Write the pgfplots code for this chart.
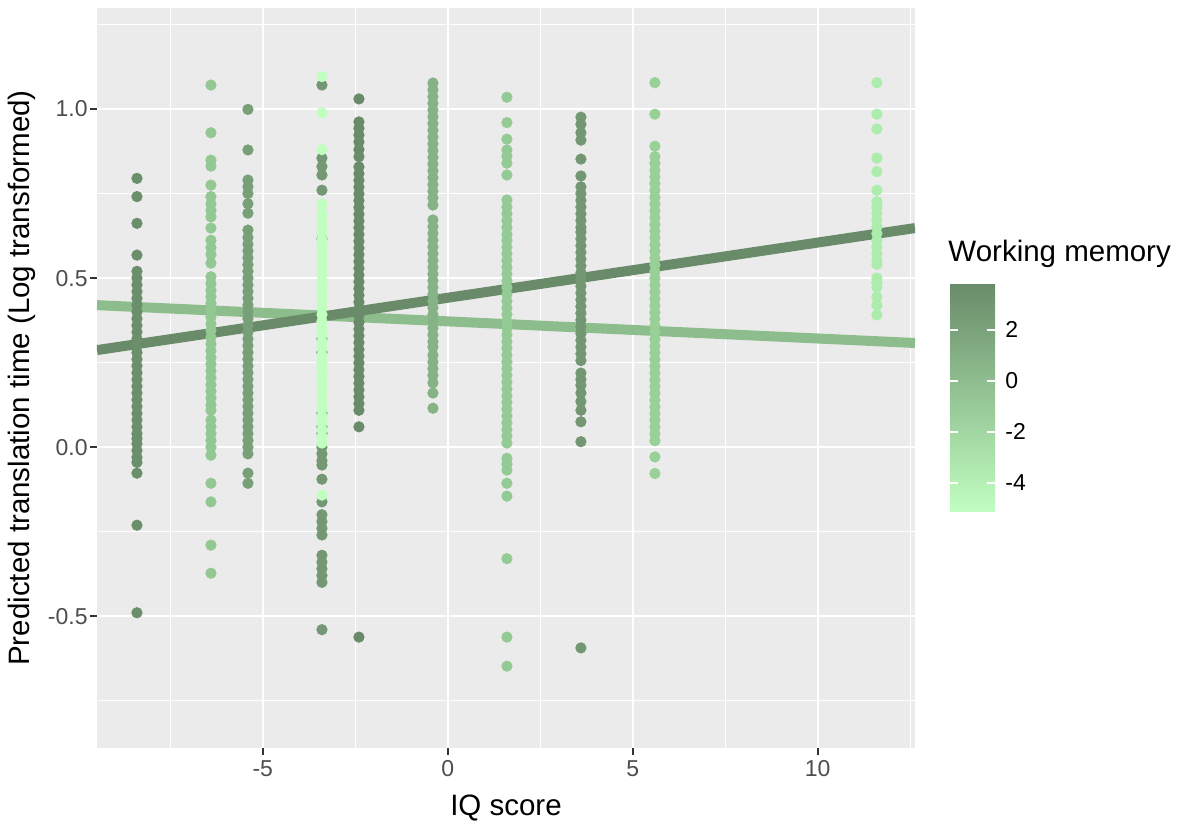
\documentclass[border=0pt]{standalone}
\usepackage{fontspec}
\setmainfont{Liberation Sans}
\usepackage{pgfplots}
\pgfplotsset{compat=1.18}
\usetikzlibrary{calc}
\definecolor{panel}{HTML}{EBEBEB}
\definecolor{tickc}{HTML}{333333}
\definecolor{labgrey}{HTML}{4D4D4D}
\definecolor{cA}{RGB}{107,142,107}
\definecolor{cB}{RGB}{147,200,147}
\definecolor{cC}{RGB}{120,160,120}
\definecolor{cDd}{RGB}{115,152,115}
\definecolor{cDl}{RGB}{193,255,193}
\definecolor{cE}{RGB}{105,139,105}
\definecolor{cF}{RGB}{133,179,133}
\definecolor{cG}{RGB}{148,203,148}
\definecolor{cH}{RGB}{115,151,115}
\definecolor{cI}{RGB}{152,208,152}
\definecolor{cJ}{RGB}{172,236,172}
\definecolor{lineDark}{RGB}{105,139,105}
\definecolor{lineLight}{RGB}{141,189,141}
\begin{document}
\begin{tikzpicture}
\useasboundingbox (0,0) rectangle (590pt,414pt);
\begin{axis}[
  at={(48.5pt,40pt)}, anchor=south west,
  scale only axis, width=409pt, height=370pt,
  xmin=-9.48, xmax=12.63, ymin=-0.89, ymax=1.299,
  axis background/.style={fill=panel},
  axis line style={draw=none},
  xtick={-5,0,5,10}, xticklabels={-5,0,5,10},
  ytick={-0.5,0,0.5,1}, yticklabels={-0.5,0.0,0.5,1.0},
  minor xtick={-7.5,-2.5,2.5,7.5,12.5},
  minor ytick={-0.75,-0.25,0.25,0.75,1.25},
  grid=both,
  major grid style={white, line width=1.2pt},
  minor grid style={white, line width=0.6pt},
  tick align=outside,
  major tick length=3.5pt, minor tick length=0pt,
  tick style={color=tickc, line width=1.1pt},
  xtick pos=left, ytick pos=left,
  ticklabel style={font=\fontsize{11.5}{13}\selectfont, text=labgrey},
  yticklabel style={inner sep=1pt},
  xticklabel style={inner sep=2.5pt},
  xlabel={IQ score}, ylabel={Predicted translation time (Log transformed)},
  label style={font=\fontsize{14.75}{17}\selectfont},
  xlabel style={at={(axis description cs:0.5,-0.0811)}, anchor=center},
  ylabel style={at={(axis description cs:-0.0917,0.5)}, anchor=center},
  colormap={wm}{rgb255=(193,255,193) rgb255=(105,139,105)},
  point meta min=-5.14, point meta max=3.84,
  colorbar,
  colorbar/width=22.5pt,
  colorbar style={
    at={($(parent axis.north east)+(9pt,-137.5pt)$)}, anchor=north west,
    scale only axis, width=22.5pt, height=114.5pt,
    axis line style={draw=none},
    axis on top,
    ytick={-4,-2,0,2}, yticklabels={-4,-2,0,2},
    ytick pos=both, yticklabel pos=right,
    tick align=inside, major tick length=4pt,
    tick style={color=white, line width=1pt},
    yticklabel style={font=\fontsize{11.5}{13}\selectfont, text=black, inner sep=0pt, xshift=5pt},
    title={Working memory},
    title style={at={(0,1)}, anchor=base west, inner sep=0pt, yshift=4.75pt, xshift=-1pt, font=\fontsize{14.75}{17}\selectfont},
  },
]
% IQ -8.4
\addplot[only marks, mark=*, mark size=2.6pt, color=cA] coordinates {
(-8.4,0.795) (-8.4,0.741) (-8.4,0.662) (-8.4,0.568) (-8.4,0.52) (-8.4,0.50) (-8.4,0.48) (-8.4,0.46) (-8.4,0.44) (-8.4,0.42) (-8.4,0.40) (-8.4,0.38) (-8.4,0.36) (-8.4,0.34) (-8.4,0.32) (-8.4,0.30) (-8.4,0.28) (-8.4,0.26) (-8.4,0.24) (-8.4,0.22) (-8.4,0.20) (-8.4,0.18) (-8.4,0.16) (-8.4,0.14) (-8.4,0.12) (-8.4,0.10) (-8.4,0.08) (-8.4,0.06) (-8.4,0.04) (-8.4,0.025) (-8.4,0.01) (-8.4,-0.01) (-8.4,-0.03) (-8.4,-0.045) (-8.4,-0.077) (-8.4,-0.231) (-8.4,-0.49)};
% IQ -6.4
\addplot[only marks, mark=*, mark size=2.6pt, color=cB] coordinates {
(-6.4,1.071) (-6.4,0.93) (-6.4,0.849) (-6.4,0.831) (-6.4,0.775) (-6.4,0.741) (-6.4,0.72) (-6.4,0.70) (-6.4,0.681) (-6.4,0.648) (-6.4,0.612) (-6.4,0.59) (-6.4,0.57) (-6.4,0.544) (-6.4,0.504) (-6.4,0.484) (-6.4,0.464) (-6.4,0.445) (-6.4,0.425) (-6.4,0.405) (-6.4,0.385) (-6.4,0.365) (-6.4,0.345) (-6.4,0.325) (-6.4,0.305) (-6.4,0.285) (-6.4,0.265) (-6.4,0.245) (-6.4,0.225) (-6.4,0.205) (-6.4,0.185) (-6.4,0.165) (-6.4,0.145) (-6.4,0.125) (-6.4,0.109) (-6.4,0.08) (-6.4,0.06) (-6.4,0.04) (-6.4,0.02) (-6.4,0.0) (-6.4,-0.024) (-6.4,-0.107) (-6.4,-0.162) (-6.4,-0.29) (-6.4,-0.373)};
% IQ -5.4
\addplot[only marks, mark=*, mark size=2.6pt, color=cC] coordinates {
(-5.4,0.999) (-5.4,0.879) (-5.4,0.79) (-5.4,0.77) (-5.4,0.75) (-5.4,0.72) (-5.4,0.692) (-5.4,0.642) (-5.4,0.62) (-5.4,0.60) (-5.4,0.58) (-5.4,0.56) (-5.4,0.54) (-5.4,0.52) (-5.4,0.50) (-5.4,0.48) (-5.4,0.46) (-5.4,0.44) (-5.4,0.42) (-5.4,0.40) (-5.4,0.38) (-5.4,0.36) (-5.4,0.34) (-5.4,0.32) (-5.4,0.30) (-5.4,0.28) (-5.4,0.26) (-5.4,0.24) (-5.4,0.22) (-5.4,0.20) (-5.4,0.18) (-5.4,0.16) (-5.4,0.14) (-5.4,0.12) (-5.4,0.10) (-5.4,0.08) (-5.4,0.06) (-5.4,0.04) (-5.4,0.02) (-5.4,0.0) (-5.4,-0.02) (-5.4,-0.077) (-5.4,-0.107)};
% IQ -3.4 (dark group)
\addplot[only marks, mark=*, mark size=2.6pt, color=cDd] coordinates {
(-3.4,1.071) (-3.4,0.855) (-3.4,0.83) (-3.4,0.805) (-3.4,0.76) (-3.4,0.615) (-3.4,0.32) (-3.4,0.28) (-3.4,0.10) (-3.4,0.06) (-3.4,0.04) (-3.4,0.0) (-3.4,-0.02) (-3.4,-0.04) (-3.4,-0.053) (-3.4,-0.095) (-3.4,-0.162) (-3.4,-0.20) (-3.4,-0.22) (-3.4,-0.24) (-3.4,-0.26) (-3.4,-0.32) (-3.4,-0.34) (-3.4,-0.36) (-3.4,-0.38) (-3.4,-0.40) (-3.4,-0.54)};
% IQ -3.4 (light group)
\addplot[only marks, mark=*, mark size=2.6pt, color=cDl] coordinates {
(-3.4,1.096) (-3.4,0.989) (-3.4,0.88) (-3.4,0.719) (-3.4,0.692) (-3.4,0.672) (-3.4,0.652) (-3.4,0.632) (-3.4,0.612) (-3.4,0.592) (-3.4,0.572) (-3.4,0.552) (-3.4,0.532) (-3.4,0.512) (-3.4,0.492) (-3.4,0.472) (-3.4,0.452) (-3.4,0.432) (-3.4,0.412) (-3.4,0.392) (-3.4,0.372) (-3.4,0.352) (-3.4,0.332) (-3.4,0.312) (-3.4,0.292) (-3.4,0.272) (-3.4,0.252) (-3.4,0.232) (-3.4,0.212) (-3.4,0.192) (-3.4,0.172) (-3.4,0.152) (-3.4,0.132) (-3.4,0.112) (-3.4,0.092) (-3.4,0.072) (-3.4,0.052) (-3.4,0.032) (-3.4,0.012) (-3.4,-0.142)};
% IQ -2.4
\addplot[only marks, mark=*, mark size=2.6pt, color=cE] coordinates {
(-2.4,1.03) (-2.4,0.962) (-2.4,0.943) (-2.4,0.923) (-2.4,0.903) (-2.4,0.88) (-2.4,0.859) (-2.4,0.829) (-2.4,0.809) (-2.4,0.789) (-2.4,0.769) (-2.4,0.749) (-2.4,0.729) (-2.4,0.709) (-2.4,0.689) (-2.4,0.669) (-2.4,0.649) (-2.4,0.629) (-2.4,0.609) (-2.4,0.589) (-2.4,0.569) (-2.4,0.549) (-2.4,0.529) (-2.4,0.509) (-2.4,0.489) (-2.4,0.469) (-2.4,0.449) (-2.4,0.429) (-2.4,0.409) (-2.4,0.389) (-2.4,0.369) (-2.4,0.349) (-2.4,0.329) (-2.4,0.309) (-2.4,0.289) (-2.4,0.269) (-2.4,0.249) (-2.4,0.229) (-2.4,0.209) (-2.4,0.189) (-2.4,0.169) (-2.4,0.149) (-2.4,0.129) (-2.4,0.109) (-2.4,0.06) (-2.4,-0.562)};
% IQ -0.4
\addplot[only marks, mark=*, mark size=2.6pt, color=cF] coordinates {
(-0.4,1.077) (-0.4,1.057) (-0.4,1.037) (-0.4,1.017) (-0.4,0.997) (-0.4,0.977) (-0.4,0.957) (-0.4,0.937) (-0.4,0.917) (-0.4,0.897) (-0.4,0.877) (-0.4,0.857) (-0.4,0.837) (-0.4,0.817) (-0.4,0.797) (-0.4,0.777) (-0.4,0.757) (-0.4,0.737) (-0.4,0.716) (-0.4,0.672) (-0.4,0.652) (-0.4,0.632) (-0.4,0.612) (-0.4,0.592) (-0.4,0.572) (-0.4,0.552) (-0.4,0.532) (-0.4,0.512) (-0.4,0.492) (-0.4,0.472) (-0.4,0.452) (-0.4,0.432) (-0.4,0.412) (-0.4,0.392) (-0.4,0.372) (-0.4,0.352) (-0.4,0.332) (-0.4,0.312) (-0.4,0.296) (-0.4,0.272) (-0.4,0.252) (-0.4,0.232) (-0.4,0.212) (-0.4,0.19) (-0.4,0.16) (-0.4,0.115)};
% IQ 1.6
\addplot[only marks, mark=*, mark size=2.6pt, color=cG] coordinates {
(1.6,1.035) (1.6,0.96) (1.6,0.911) (1.6,0.879) (1.6,0.86) (1.6,0.84) (1.6,0.805) (1.6,0.731) (1.6,0.71) (1.6,0.69) (1.6,0.67) (1.6,0.65) (1.6,0.63) (1.6,0.612) (1.6,0.592) (1.6,0.572) (1.6,0.552) (1.6,0.532) (1.6,0.512) (1.6,0.492) (1.6,0.472) (1.6,0.452) (1.6,0.432) (1.6,0.412) (1.6,0.392) (1.6,0.372) (1.6,0.352) (1.6,0.332) (1.6,0.312) (1.6,0.292) (1.6,0.272) (1.6,0.252) (1.6,0.232) (1.6,0.212) (1.6,0.192) (1.6,0.172) (1.6,0.152) (1.6,0.132) (1.6,0.112) (1.6,0.092) (1.6,0.072) (1.6,0.052) (1.6,0.032) (1.6,0.012) (1.6,-0.033) (1.6,-0.05) (1.6,-0.068) (1.6,-0.107) (1.6,-0.145) (1.6,-0.33) (1.6,-0.562) (1.6,-0.648)};
% IQ 3.6
\addplot[only marks, mark=*, mark size=2.6pt, color=cH] coordinates {
(3.6,0.976) (3.6,0.955) (3.6,0.93) (3.6,0.908) (3.6,0.852) (3.6,0.802) (3.6,0.77) (3.6,0.75) (3.6,0.73) (3.6,0.71) (3.6,0.69) (3.6,0.67) (3.6,0.65) (3.6,0.636) (3.6,0.616) (3.6,0.596) (3.6,0.576) (3.6,0.556) (3.6,0.536) (3.6,0.516) (3.6,0.496) (3.6,0.476) (3.6,0.456) (3.6,0.436) (3.6,0.416) (3.6,0.396) (3.6,0.376) (3.6,0.356) (3.6,0.336) (3.6,0.316) (3.6,0.296) (3.6,0.276) (3.6,0.256) (3.6,0.219) (3.6,0.2) (3.6,0.183) (3.6,0.16) (3.6,0.135) (3.6,0.109) (3.6,0.075) (3.6,0.016) (3.6,-0.594)};
% IQ 5.6
\addplot[only marks, mark=*, mark size=2.6pt, color=cI] coordinates {
(5.6,1.078) (5.6,0.985) (5.6,0.89) (5.6,0.859) (5.6,0.839) (5.6,0.819) (5.6,0.799) (5.6,0.779) (5.6,0.759) (5.6,0.739) (5.6,0.719) (5.6,0.699) (5.6,0.679) (5.6,0.659) (5.6,0.639) (5.6,0.619) (5.6,0.599) (5.6,0.579) (5.6,0.559) (5.6,0.539) (5.6,0.519) (5.6,0.499) (5.6,0.479) (5.6,0.459) (5.6,0.439) (5.6,0.419) (5.6,0.399) (5.6,0.379) (5.6,0.359) (5.6,0.339) (5.6,0.319) (5.6,0.299) (5.6,0.279) (5.6,0.259) (5.6,0.239) (5.6,0.219) (5.6,0.199) (5.6,0.179) (5.6,0.159) (5.6,0.139) (5.6,0.119) (5.6,0.099) (5.6,0.079) (5.6,0.059) (5.6,0.039) (5.6,0.019) (5.6,-0.029) (5.6,-0.078)};
% fitted lines
\addplot[color=lineLight, line width=5pt] coordinates {(-9.48,0.42) (12.63,0.308)};
\addplot[color=lineDark, line width=5pt] coordinates {(-9.48,0.287) (12.63,0.648)};
% IQ 11.6
\addplot[only marks, mark=*, mark size=2.6pt, color=cJ] coordinates {
(11.6,1.078) (11.6,0.985) (11.6,0.941) (11.6,0.855) (11.6,0.815) (11.6,0.76) (11.6,0.726) (11.6,0.711) (11.6,0.692) (11.6,0.672) (11.6,0.652) (11.6,0.632) (11.6,0.612) (11.6,0.592) (11.6,0.572) (11.6,0.553) (11.6,0.541) (11.6,0.5) (11.6,0.487) (11.6,0.473) (11.6,0.444) (11.6,0.42) (11.6,0.391)};
\end{axis}
\end{tikzpicture}
\end{document}
